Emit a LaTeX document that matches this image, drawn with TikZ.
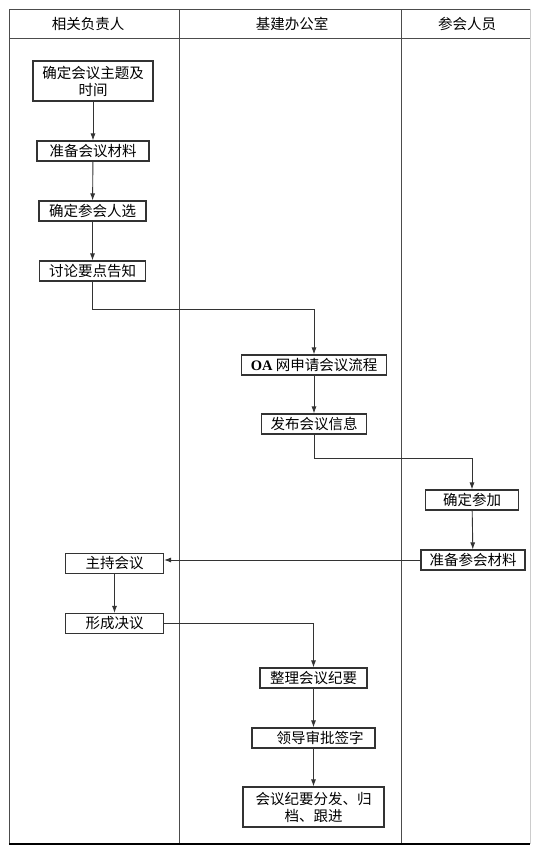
\documentclass[tikz,border=0pt]{standalone}
\usepackage{fontspec}
\setmainfont{Liberation Serif}
\newfontfamily\cjk{Noto Sans CJK SC}
\usetikzlibrary{arrows.meta}
\begin{document}
\begin{tikzpicture}[x=1pt, y=-1pt,
    lane/.style={draw=black!70, line width=1pt},
    head/.style={font=\cjk\fontsize{14.5}{17}\selectfont, text=black},
    task/.style={rectangle, draw=black!80, line width=1.1pt,
              minimum height=20pt, inner sep=2pt,
              text centered, align=center,
              font=\cjk\fontsize{14.5}{17}\selectfont, text=black},
    arrow/.style={-{Latex[length=7pt,width=5pt]}, draw=black!80, line width=0.9pt}
]
    \useasboundingbox (0,0) rectangle (546,853);
    % swimlanes
    \draw[lane] (9,9.5) -- (530,9.5);
    \draw[lane] (9,9.5) -- (9,844);
    \draw[draw=black!20, line width=1pt] (530,9.5) -- (530,844);
    \draw[lane] (9,39) -- (530,39);
    \draw[lane] (179,9.5) -- (179,844);
    \draw[lane] (401,9.5) -- (401,844);
    \draw[draw=black, line width=1.4pt] (9,844) -- (530,844);
    \node[head] (lead)   at (88, 24)  {相关负责人};
    \node[head] (office) at (292, 24) {基建办公室};
    \node[head] (member) at (467, 24) {参会人员};

    % tasks
    \node[task, minimum width=120pt, minimum height=40pt] (topic) at (93, 81)
        {确定会议主题及\\时间};
    \node[task, minimum width=112pt] (prep)   at (93, 151)  {准备会议材料};
    \node[task, minimum width=107pt] (pick)   at (92.5, 211) {确定参会人选};
    \node[task, minimum width=106pt] (notify) at (92.5, 271) {讨论要点告知};
    \node[task, minimum width=145pt] (oa)     at (314, 365)
        {{\rmfamily\bfseries OA} 网申请会议流程};
    \node[task, minimum width=105pt] (info)   at (314, 424)  {发布会议信息};
    \node[task, minimum width=93pt]  (join)   at (472, 500)  {确定参加};
    \node[task, minimum width=104pt] (mprep)  at (473, 560)  {准备参会材料};
    \node[task, minimum width=98pt]  (host)   at (114.5, 563.5) {主持会议};
    \node[task, minimum width=98pt]  (decide) at (114.5, 623.5) {形成决议};
    \node[task, minimum width=107pt] (minute) at (313.5, 678) {整理会议纪要};
    \node[task, minimum width=123pt] (sign)   at (313.5, 738)
        {\hspace*{0.9em}领导审批签字};
    \node[task, minimum width=141pt, minimum height=40pt] (file) at (313.5, 807)
        {会议纪要分发、归\\档、跟进};

    % flow
    \draw[arrow] (topic) -- (prep);
    \draw[arrow] (prep) -- (pick);
    \draw[arrow] (pick) -- (notify);
    \draw[arrow] (notify.south) |- (200,309.5) -| (oa.north);
    \draw[arrow] (oa) -- (info);
    \draw[arrow] (info.south) |- (400,458.5) -| (join.north);
    \draw[arrow] (join) -- (mprep);
    \draw[arrow] (mprep.west) -- (mprep.west -| host.east);
    \draw[arrow] (host) -- (decide);
    \draw[arrow] (decide.east) -| (minute.north);
    \draw[arrow] (minute) -- (sign);
    \draw[arrow] (sign) -- (file);
\end{tikzpicture}
\end{document}
